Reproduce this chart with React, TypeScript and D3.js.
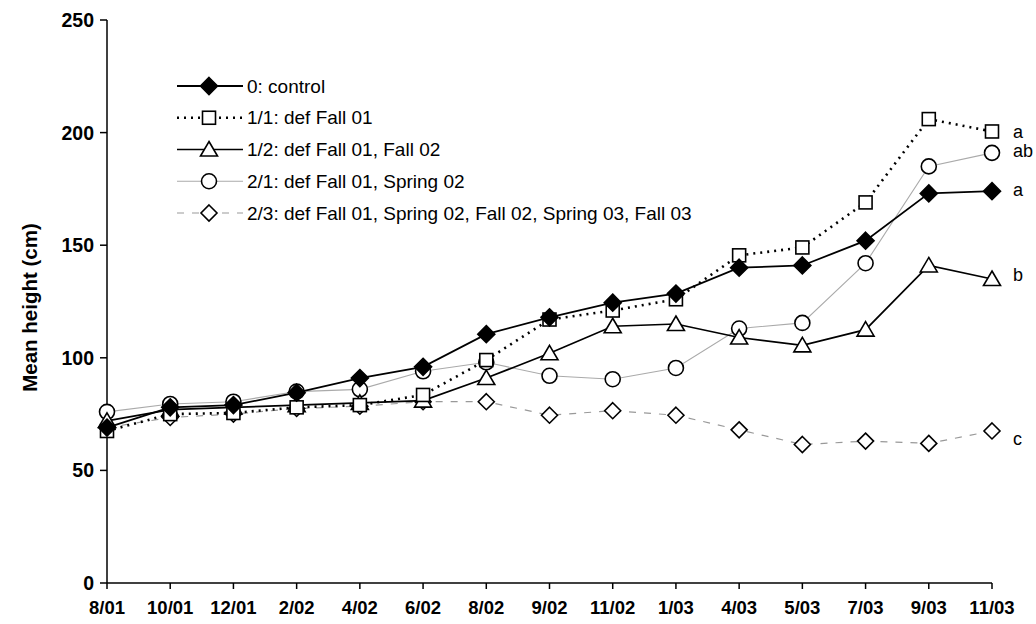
import React from "react";
import * as d3 from "d3";

const dates = ["8/01","10/01","12/01","2/02","4/02","6/02","8/02","9/02","11/02","1/03","4/03","5/03","7/03","9/03","11/03"];
const yTicks = [0, 50, 100, 150, 200, 250];

const control = [69, 78, 79, 84.5, 91, 96, 110.5, 118, 124.5, 128.5, 140, 141, 152, 173, 174];
const defFall01 = [67.5, 75, 75.5, 78, 79, 83.5, 99, 117, 121, 126, 145.5, 149, 169, 206, 200.5];
const defFall01Fall02 = [72, 77, 78, 79, 80, 81, 91, 102, 114, 115, 109, 105.5, 112.5, 141, 135];
const defFall01Spring02 = [76, 79.5, 80.5, 85, 86, 94, 98, 92, 90.5, 95.5, 113, 115.5, 142, 185, 191];
const defAll = [69, 73.5, 75, 77.5, 78.5, 80.5, 80.5, 74.5, 76.5, 74.5, 68, 61.5, 63, 62, 67.5];

const seriesNames = [
  "0: control",
  "1/1: def Fall 01",
  "1/2: def Fall 01, Fall 02",
  "2/1: def Fall 01, Spring 02",
  "2/3: def Fall 01, Spring 02, Fall 02, Spring 03, Fall 03",
];
const groupLetters = ["a", "a", "b", "ab", "c"];

type Style = { stroke: string; width: number; dash?: string; marker: string; fill: string };
const styles: Style[] = [
  { stroke: "#000", width: 1.8, marker: "diamond", fill: "#000" },
  { stroke: "#000", width: 2.6, dash: "2,5", marker: "square", fill: "#fff" },
  { stroke: "#000", width: 1.7, marker: "triangle", fill: "#fff" },
  { stroke: "#aaa", width: 1.1, marker: "circle", fill: "#fff" },
  { stroke: "#999", width: 1.2, dash: "7,8", marker: "diamondOpen", fill: "#fff" },
];
const letterDy = [-1, 0, -4, -2, 8];

const W = 1036, H = 624;
const left = 107, right = 992, top = 20, bottom = 583;

function Marker({ type, x, y, fill }: { type: string; x: number; y: number; fill: string }) {
  const sw = 1.6;
  if (type === "diamond" || type === "diamondOpen") {
    const r = type === "diamond" ? 8.5 : 8;
    return <path d={`M${x},${y - r}L${x + r},${y}L${x},${y + r}L${x - r},${y}Z`} fill={fill} stroke="#000" strokeWidth={sw} />;
  }
  if (type === "square") {
    const s = 13;
    return <rect x={x - s / 2} y={y - s / 2} width={s} height={s} fill={fill} stroke="#000" strokeWidth={sw} />;
  }
  if (type === "triangle") {
    return <path d={`M${x},${y - 8}L${x + 8.5},${y + 6.5}L${x - 8.5},${y + 6.5}Z`} fill={fill} stroke="#000" strokeWidth={sw} />;
  }
  return <circle cx={x} cy={y} r={7.5} fill={fill} stroke="#000" strokeWidth={sw} />;
}

export default function App() {
  const x = d3.scalePoint<string>().domain(dates).range([left, right]);
  const y = d3.scaleLinear().domain([0, 250]).range([bottom, top]);
  const allSeries = [control, defFall01, defFall01Fall02, defFall01Spring02, defAll];
  const line = d3.line<number>().x((_, i) => x(dates[i]) as number).y((v) => y(v));
  const drawOrder = [4, 3, 2, 1, 0];
  const legendY = d3.scaleLinear().domain([0, 4]).range([86, 213]);

  return (
    <svg width={W} height={H} style={{ position: "absolute", left: 0, top: 0, background: "#fff" }}
      fontFamily="'Liberation Sans', Arial, Helvetica, sans-serif">
      {/* axes */}
      <line x1={left} x2={left} y1={top} y2={bottom} stroke="#000" strokeWidth={1.5} />
      <line x1={left} x2={right} y1={bottom} y2={bottom} stroke="#000" strokeWidth={1.5} />
      {yTicks.map((t) => (
        <g key={t}>
          <line x1={left - 7} x2={left} y1={y(t)} y2={y(t)} stroke="#000" strokeWidth={1.5} />
          <text x={left - 13} y={y(t)} dy="0.36em" textAnchor="end" fontWeight="bold" fontSize={19.5}>{t}</text>
        </g>
      ))}
      {dates.map((d) => (
        <g key={d}>
          <line x1={x(d)} x2={x(d)} y1={bottom} y2={bottom + 6} stroke="#000" strokeWidth={1.5} />
          <text x={x(d)} y={614} textAnchor="middle" fontWeight="bold" fontSize={18.5}>{d}</text>
        </g>
      ))}
      <text transform={`translate(37,${(top + bottom) / 2 + 6}) rotate(-90)`} textAnchor="middle" fontWeight="bold" fontSize={20.5}>Mean height (cm)</text>

      {/* lines */}
      {drawOrder.map((si) => (
        <path key={"l" + si} d={line(allSeries[si]) as string} fill="none" stroke={styles[si].stroke}
          strokeWidth={styles[si].width} strokeDasharray={styles[si].dash} />
      ))}
      {/* markers */}
      {drawOrder.map((si) => (
        <g key={"m" + si}>
          {allSeries[si].map((v, i) => (
            <Marker key={i} type={styles[si].marker} x={x(dates[i]) as number} y={y(v)} fill={styles[si].fill} />
          ))}
        </g>
      ))}
      {/* group letters */}
      {allSeries.map((s, si) => (
        <text key={"g" + si} x={1013} y={y(s[s.length - 1]) + letterDy[si]} dy="0.35em" fontSize={18}>{groupLetters[si]}</text>
      ))}

      {/* legend */}
      {seriesNames.map((n, si) => (
        <g key={"lg" + si}>
          <line x1={177} x2={243} y1={legendY(si)} y2={legendY(si)} stroke={styles[si].stroke}
            strokeWidth={styles[si].width} strokeDasharray={styles[si].dash} />
          <Marker type={styles[si].marker} x={209} y={legendY(si)} fill={styles[si].fill} />
          <text x={247} y={legendY(si)} dy="0.35em" fontSize={19}>{n}</text>
        </g>
      ))}
    </svg>
  );
}
